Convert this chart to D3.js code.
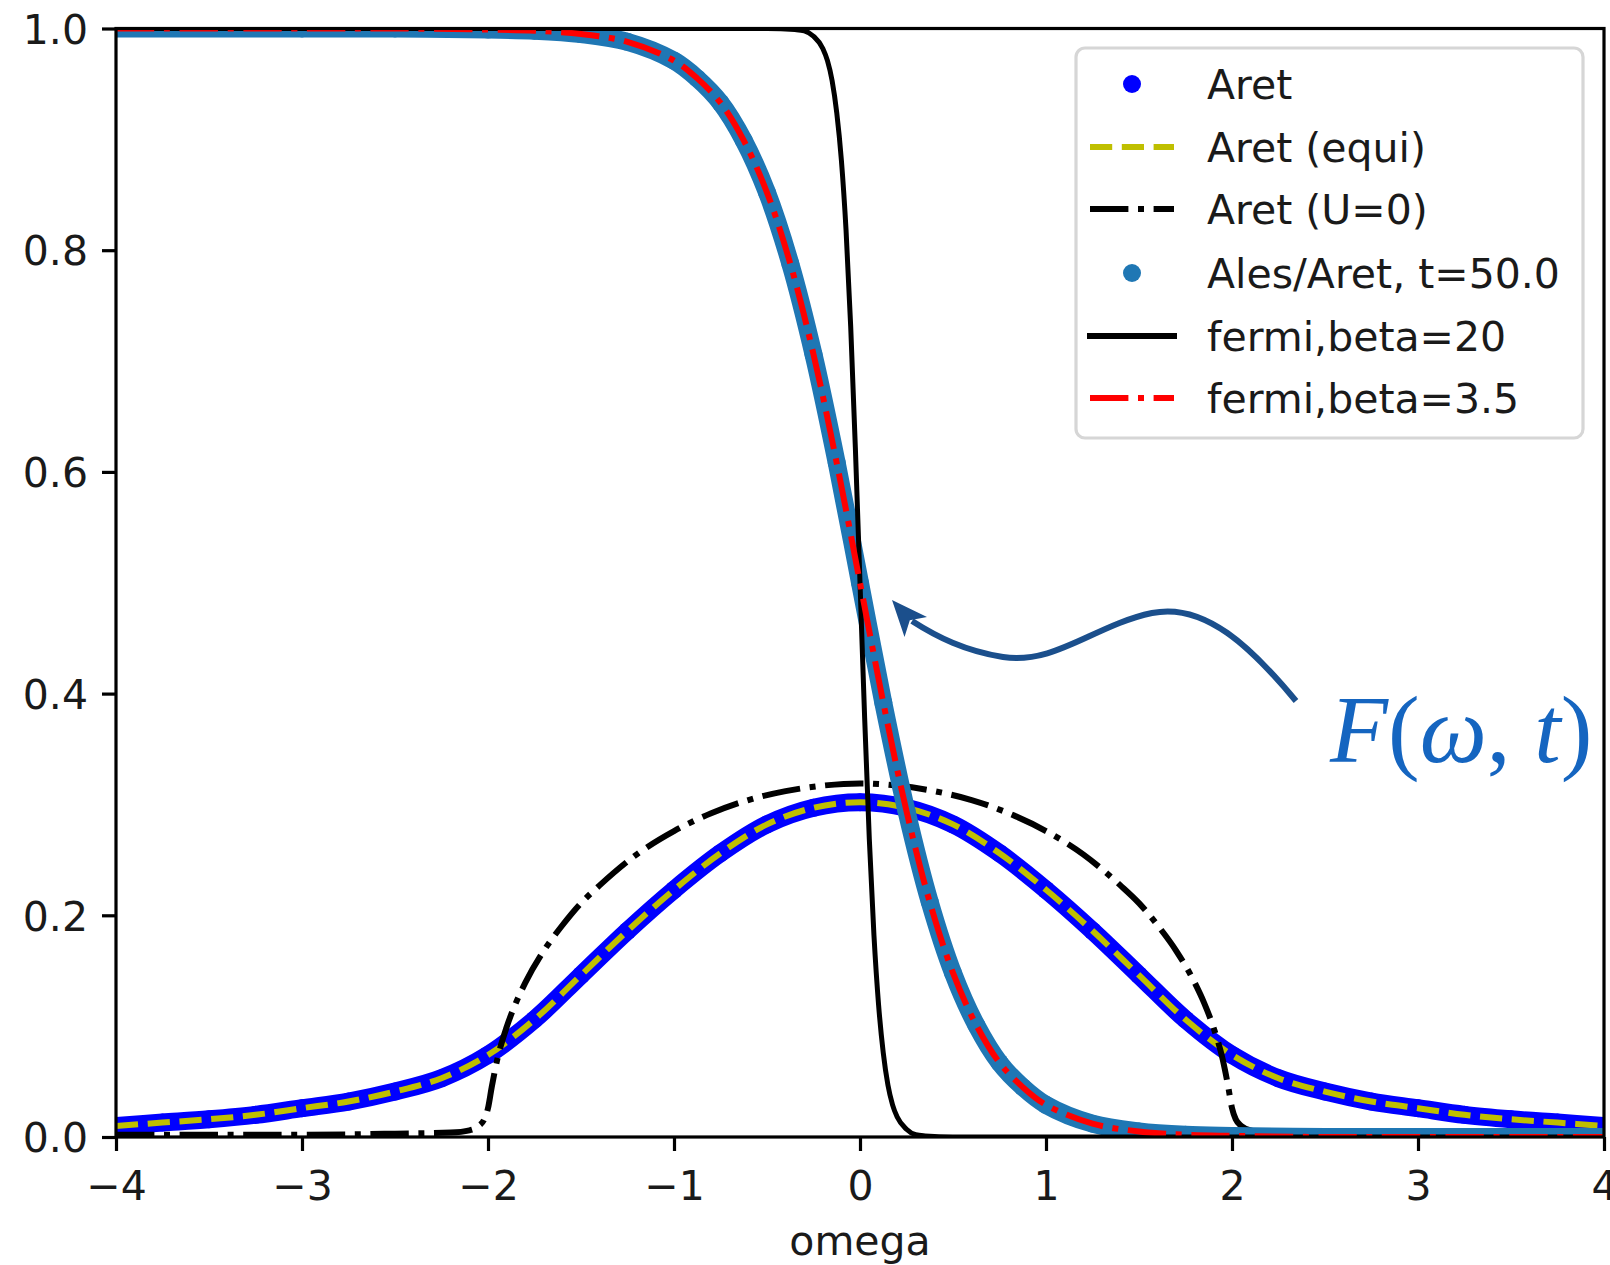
<!DOCTYPE html>
<html>
<head>
<meta charset="utf-8">
<script src="https://cdn.jsdelivr.net/npm/d3@7"></script>
<style>
  html, body { margin: 0; padding: 0; background: #fff; }
  svg { display: block; }
</style>
</head>
<body>
<div id="chart"></div>
<script>
// Retarded spectral function and distribution functions vs. omega

// Aret (interacting), sampled on a regular omega grid
const omegaAret = [-4,-3.75,-3.5,-3.25,-3,-2.75,-2.5,-2.25,-2,-1.75,-1.5,-1.25,-1,-0.75,-0.5,-0.25,0,
                   0.25,0.5,0.75,1,1.25,1.5,1.75,2,2.25,2.5,2.75,3,3.25,3.5,3.75,4];
const aretValues = [0.010,0.013,0.016,0.020,0.026,0.032,0.041,0.053,0.074,0.106,0.146,0.186,0.223,0.256,0.282,0.297,0.302,
                    0.297,0.282,0.256,0.223,0.186,0.146,0.106,0.074,0.053,0.041,0.032,0.026,0.020,0.016,0.013,0.010];
// Aret in equilibrium
const aretEquiValues = [0.010,0.013,0.016,0.020,0.026,0.032,0.041,0.053,0.074,0.106,0.146,0.186,0.223,0.256,0.282,0.297,0.302,
                        0.297,0.282,0.256,0.223,0.186,0.146,0.106,0.074,0.053,0.041,0.032,0.026,0.020,0.016,0.013,0.010];

// Aret for U=0 (semicircular density of states)
const omegaFree = [-4,-3,-2.5,-2.2,-2.1,-2.05,-2.02,-2,-1.98,-1.95,-1.9,-1.85,-1.8,-1.7,-1.6,-1.5,-1.4,-1.2,-1,-0.8,-0.6,-0.4,-0.2,0,
                   0.2,0.4,0.6,0.8,1,1.2,1.4,1.5,1.6,1.7,1.8,1.85,1.9,1.95,1.98,2,2.02,2.05,2.1,2.2,2.5,3,4];
const freeValues = [0.002,0.002,0.003,0.004,0.006,0.010,0.016,0.026,0.045,0.070,0.099,0.121,0.139,0.168,0.191,0.211,0.227,0.255,0.276,0.292,0.304,0.312,0.317,0.319,
                    0.317,0.312,0.304,0.292,0.276,0.255,0.227,0.211,0.191,0.168,0.139,0.121,0.099,0.070,0.045,0.026,0.016,0.010,0.006,0.004,0.003,0.002,0.002];

// Ales/Aret at t = 50.0 and the Fermi function at beta = 3.5
const omegaDist = [-4,-3,-2.5,-2,-1.75,-1.5,-1.25,-1,-0.875,-0.75,-0.625,-0.5,-0.375,-0.25,-0.125,0,
                   0.125,0.25,0.375,0.5,0.625,0.75,0.875,1,1.25,1.5,1.75,2,2.5,3,4];
const alesRatioValues = [1,1,1,0.999,0.998,0.995,0.988,0.971,0.955,0.933,0.899,0.852,0.788,0.706,0.608,0.5,
                         0.392,0.294,0.212,0.148,0.101,0.067,0.045,0.029,0.012,0.005,0.002,0.001,0,0,0];
const fermi35Values = [1,1,1,0.999,0.998,0.995,0.988,0.971,0.955,0.933,0.899,0.852,0.788,0.706,0.608,0.5,
                       0.392,0.294,0.212,0.148,0.101,0.067,0.045,0.029,0.012,0.005,0.002,0.001,0,0,0];

// Fermi function at beta = 20
const omegaF20 = [-4,-1,-0.5,-0.35,-0.3,-0.25,-0.2,-0.175,-0.15,-0.125,-0.1,-0.075,-0.05,-0.025,0,
                  0.025,0.05,0.075,0.1,0.125,0.15,0.175,0.2,0.25,0.3,0.35,0.5,1,4];
const fermi20Values = [1,1,1,0.999,0.998,0.993,0.982,0.971,0.953,0.924,0.881,0.818,0.731,0.622,0.5,
                       0.378,0.269,0.182,0.119,0.076,0.047,0.029,0.018,0.007,0.002,0.001,0,0,0];

// Axis ticks
const xTicks = [-4,-3,-2,-1,0,1,2,3,4];
const yTicks = [0.0,0.2,0.4,0.6,0.8,1.0];
const xLabel = "omega";
const legendLabels = ["Aret","Aret (equi)","Aret (U=0)","Ales/Aret, t=50.0","fermi,beta=20","fermi,beta=3.5"];

const W = 1610, H = 1265;
const plot = {left: 116, right: 1604, top: 28.5, bottom: 1137};
const fontUI = "'DejaVu Sans', sans-serif";
const fs = 41;

const x = d3.scaleLinear().domain([-4, 4]).range([plot.left, plot.right]);
const y = d3.scaleLinear().domain([0, 1]).range([plot.bottom, plot.top]);

const svg = d3.select("#chart").append("svg")
  .attr("width", W).attr("height", H)
  .attr("viewBox", `0 0 ${W} ${H}`);

svg.append("rect").attr("width", W).attr("height", H).attr("fill", "#fff");

svg.append("clipPath").attr("id", "plot-clip")
  .append("rect")
  .attr("x", plot.left).attr("y", plot.top)
  .attr("width", plot.right - plot.left).attr("height", plot.bottom - plot.top);

const g = svg.append("g").attr("clip-path", "url(#plot-clip)");

const zip = (xs, ys) => xs.map((v, i) => [v, ys[i]]);
// smooth curves for gently varying data, monotone for the steep edges
const smooth = d3.line().x(d => x(d[0])).y(d => y(d[1])).curve(d3.curveCatmullRom.alpha(0.5));
const steep = d3.line().x(d => x(d[0])).y(d => y(d[1])).curve(d3.curveMonotoneX);

const markerD = 18;

// Aret: dense blue markers
const aretPts = zip(omegaAret, aretValues);
g.append("path").datum(aretPts).attr("d", smooth)
  .attr("fill", "none").attr("stroke", "#0000ff")
  .attr("stroke-width", markerD).attr("stroke-linecap", "round").attr("stroke-linejoin", "round");
g.selectAll("circle.aret").data(aretPts).join("circle").attr("class", "aret")
  .attr("cx", d => x(d[0])).attr("cy", d => y(d[1])).attr("r", markerD / 2).attr("fill", "#0000ff");

// Aret (equi): yellow dashed
g.append("path").datum(zip(omegaAret, aretEquiValues)).attr("d", smooth)
  .attr("fill", "none").attr("stroke", "#bfbf00").attr("stroke-width", 6)
  .attr("stroke-dasharray", "22.2 9.6");

// Aret (U=0): black dash-dot
g.append("path").datum(zip(omegaFree, freeValues)).attr("d", steep)
  .attr("fill", "none").attr("stroke", "#000").attr("stroke-width", 6)
  .attr("stroke-dasharray", "38.4 9.6 6 9.6");

// Ales/Aret: dense steelblue markers
const alesPts = zip(omegaDist, alesRatioValues);
g.append("path").datum(alesPts).attr("d", smooth)
  .attr("fill", "none").attr("stroke", "#1f77b4")
  .attr("stroke-width", markerD).attr("stroke-linecap", "round").attr("stroke-linejoin", "round");
g.selectAll("circle.ales").data(alesPts).join("circle").attr("class", "ales")
  .attr("cx", d => x(d[0])).attr("cy", d => y(d[1])).attr("r", markerD / 2).attr("fill", "#1f77b4");

// Fermi beta=20: black solid
g.append("path").datum(zip(omegaF20, fermi20Values)).attr("d", steep)
  .attr("fill", "none").attr("stroke", "#000").attr("stroke-width", 5);

// Fermi beta=3.5: red dash-dot
g.append("path").datum(zip(omegaDist, fermi35Values)).attr("d", smooth)
  .attr("fill", "none").attr("stroke", "#ff0000").attr("stroke-width", 6)
  .attr("stroke-dasharray", "38.4 9.6 6 9.6");

// Axes
const xAxis = d3.axisBottom(x).tickValues(xTicks).tickSize(14).tickPadding(14)
  .tickFormat(d => d < 0 ? "\u2212" + Math.abs(d) : String(d));
const yAxis = d3.axisLeft(y).tickValues(yTicks).tickSize(14).tickPadding(14)
  .tickFormat(d3.format(".1f"));

const gx = svg.append("g").attr("transform", `translate(0,${plot.bottom})`).call(xAxis);
const gy = svg.append("g").attr("transform", `translate(${plot.left},0)`).call(yAxis);
[gx, gy].forEach(a => {
  a.select(".domain").remove();
  a.selectAll(".tick line").attr("stroke", "#000").attr("stroke-width", 3.2);
  a.selectAll(".tick text").attr("fill", "#1a1a1a").attr("font-family", fontUI).attr("font-size", fs);
});
gx.selectAll(".tick text").attr("dy", null).attr("y", 63);
gy.selectAll(".tick text").attr("dy", "0.36em");

// Frame
svg.append("rect")
  .attr("x", plot.left).attr("y", plot.top)
  .attr("width", plot.right - plot.left).attr("height", plot.bottom - plot.top)
  .attr("fill", "none").attr("stroke", "#000").attr("stroke-width", 3.2);

svg.append("text")
  .attr("x", (plot.left + plot.right) / 2).attr("y", 1255)
  .attr("text-anchor", "middle").attr("font-family", fontUI).attr("font-size", fs)
  .attr("fill", "#1a1a1a").text(xLabel);

// Legend
const lg = svg.append("g");
lg.append("rect").attr("x", 1076).attr("y", 48).attr("width", 507).attr("height", 390)
  .attr("rx", 9).attr("fill", "#fff").attr("fill-opacity", 0.8)
  .attr("stroke", "#d6d6d6").attr("stroke-width", 3.2);

const rowY = [84, 147, 209, 273, 336, 398];
const hx0 = 1090, hx1 = 1174, hxm = 1132;
const handles = [
  {type: "dot", color: "#0000ff"},
  {type: "line", color: "#bfbf00", dash: "22.2 9.6", w: 6},
  {type: "line", color: "#000", dash: "38.4 9.6 6 9.6", w: 6},
  {type: "dot", color: "#1f77b4"},
  {type: "line", color: "#000", dash: null, w: 6, cap: "square"},
  {type: "line", color: "#ff0000", dash: "38.4 9.6 6 9.6", w: 6}
];
handles.forEach((h, i) => {
  const yy = rowY[i];
  if (h.type === "dot") {
    lg.append("circle").attr("cx", hxm).attr("cy", yy).attr("r", markerD / 2).attr("fill", h.color);
  } else {
    lg.append("line").attr("x1", hx0).attr("x2", hx1).attr("y1", yy).attr("y2", yy)
      .attr("stroke", h.color).attr("stroke-width", h.w)
      .attr("stroke-linecap", h.cap || "butt")
      .attr("stroke-dasharray", h.dash);
  }
  lg.append("text").attr("x", 1207).attr("y", yy).attr("dy", "0.36em")
    .attr("font-family", fontUI).attr("font-size", fs).attr("fill", "#1a1a1a")
    .text(legendLabels[i]);
});

// Annotation: curved arrow and label
const ann = svg.append("g");
const tip = [892, 600];
ann.append("path")
  .attr("d", "M1296,701 C1252,648 1205,602 1152,613 C1095,625 1055,665 1003,657 C965,651 937,637 912,621")
  .attr("fill", "none").attr("stroke", "#1b4f8c").attr("stroke-width", 6);
{
  const d = [0.66, 0.75];              // unit vector pointing back from the tip
  const n = [-d[1], d[0]];
  const L = 36, hw = 15, notch = 27;
  const b = [tip[0] + L * d[0], tip[1] + L * d[1]];
  const m = [tip[0] + notch * d[0], tip[1] + notch * d[1]];
  const p1 = [b[0] + hw * n[0], b[1] + hw * n[1]];
  const p2 = [b[0] - hw * n[0], b[1] - hw * n[1]];
  ann.append("path")
    .attr("d", `M${tip}L${p1}L${m}L${p2}Z`)
    .attr("fill", "#1b4f8c");
}
const label = ann.append("text").attr("x", 1330).attr("y", 762)
  .attr("font-family", "'Liberation Serif', 'DejaVu Serif', serif").attr("font-size", 95)
  .attr("fill", "#1565c0");
label.append("tspan").attr("font-style", "italic").text("F");
label.append("tspan").text("(");
label.append("tspan").attr("font-style", "italic").text("\u03c9");
label.append("tspan").text(", ");
label.append("tspan").attr("font-style", "italic").text("t");
label.append("tspan").text(")");
</script>
</body>
</html>
